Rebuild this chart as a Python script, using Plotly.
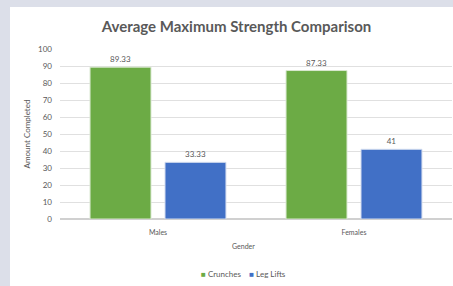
import plotly.graph_objects as go

categories = ["Males", "Females"]
crunches = [89.33, 87.33]
leg_lifts = [33.33, 41]
crunch_labels = ["89.33", "87.33"]
leg_labels = ["33.33", "41"]

GRAY = "#595959"
FONT = "Lato"
GREEN = "#6cab45"
BLUE = "#4170c6"

fig = go.Figure()
fig.add_trace(go.Bar(
    name="Crunches", x=categories, y=crunches,
    text=crunch_labels, textposition="outside",
    textfont=dict(size=8, color=GRAY, family=FONT),
    marker=dict(color=GREEN, line=dict(color="#d9e8cf", width=1)),
    cliponaxis=False,
))
fig.add_trace(go.Bar(
    name="Leg Lifts", x=categories, y=leg_lifts,
    text=leg_labels, textposition="outside",
    textfont=dict(size=8, color=GRAY, family=FONT),
    marker=dict(color=BLUE, line=dict(color="#d3dcef", width=1)),
    cliponaxis=False,
))

legend_text = (f'<span style="color:{GREEN}">■</span> Crunches    '
               f'<span style="color:{BLUE}">■</span> Leg Lifts')

fig.update_layout(
    width=453, height=286,
    margin=dict(l=60, r=1, t=49, b=67, autoexpand=False),
    paper_bgcolor="#dcdfe9",
    plot_bgcolor="white",
    font=dict(family=FONT, color=GRAY, size=8),
    title=dict(text="<b>Average Maximum Strength Comparison</b>",
               x=0.522, xanchor="center", y=0.906, yanchor="middle",
               xref="container", yref="container",
               font=dict(size=15, color=GRAY, family=FONT)),
    bargap=0.235, bargroupgap=0.187,
    showlegend=False,
    shapes=[dict(type="rect", xref="paper", yref="paper",
                 x0=-0.1276, x1=1.01, y0=-0.45, y1=1.247,
                 fillcolor="white", line=dict(width=0), layer="below")],
    annotations=[
        dict(text="Gender", xref="paper", yref="paper", x=0.467, y=-0.16,
             showarrow=False, font=dict(size=7, color=GRAY, family=FONT),
             xanchor="center", yanchor="middle"),
        dict(text=legend_text, xref="paper", yref="paper", x=0.467, y=-0.324,
             showarrow=False, font=dict(size=8, color=GRAY, family=FONT),
             xanchor="center", yanchor="middle"),
    ],
)
fig.update_yaxes(range=[0, 100], dtick=10, showgrid=True, gridcolor="#e0e0e0",
                 zeroline=True, zerolinecolor="#d0d0d0", showline=False,
                 ticks="", ticklabelstandoff=7, automargin=False,
                 tickfont=dict(size=8, color=GRAY, family=FONT),
                 title=dict(text="Amount Completed", standoff=6,
                            font=dict(size=8, color=GRAY, family=FONT)))
fig.update_xaxes(showgrid=False, showline=False, ticks="", automargin=False,
                 ticklabelstandoff=8,
                 tickfont=dict(size=7, color=GRAY, family=FONT))

fig.write_html(
    "out.html",
    config={"displayModeBar": False},
    post_script="document.body.style.margin='0';document.body.style.overflow='hidden';",
)
